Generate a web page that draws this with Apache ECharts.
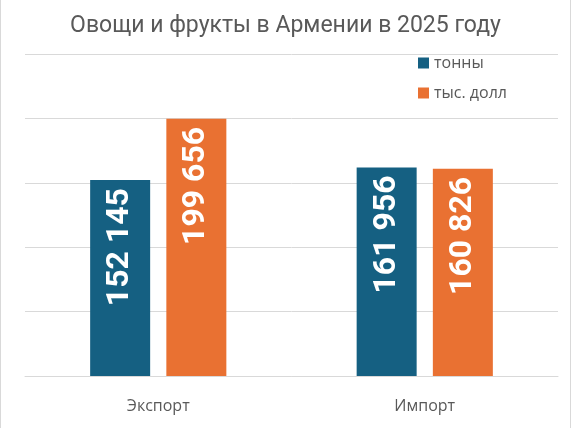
<!DOCTYPE html>
<html>
<head>
<meta charset="utf-8">
<script src="https://cdn.jsdelivr.net/npm/echarts@6/dist/echarts.min.js"></script>
<style>
  html, body { margin: 0; padding: 0; background: #fff; }
  #chart { width: 569px; height: 428px; border-left: 1px solid #d9d9d9; border-right: 1px solid #d9d9d9; }
</style>
</head>
<body>
<div id="chart"></div>
<script>
const categories = ["Экспорт", "Импорт"];
const tonnes = [152145, 161956];
const thousandUsd = [199656, 160826];
const seriesNames = ["тонны", "тыс. долл"];

const chart = echarts.init(document.getElementById("chart"), null, { renderer: "canvas" });

// "152 145" style with a space as thousands separator
const fmt = (v) => String(v).replace(/\B(?=(\d{3})+(?!\d))/g, " ");

const barLabel = {
  show: true,
  position: "insideTop",
  distance: 8,
  rotate: 90,
  align: "right",
  verticalAlign: "middle",
  color: "#fff",
  fontFamily: "Roboto",
  fontWeight: "bold",
  fontSize: 32,
  formatter: (p) => fmt(p.value),
};

chart.setOption({
  animation: false,
  title: {
    text: "Овощи и фрукты в Армении в 2025 году",
    left: "center",
    top: 10,
    textStyle: { fontFamily: "Roboto", fontWeight: "normal", fontSize: 23, color: "#595959" },
  },
  legend: {
    orient: "vertical",
    left: 412,
    top: 50,
    itemWidth: 11,
    itemHeight: 11,
    itemGap: 14,
    icon: "rect",
    textStyle: { fontFamily: "Open Sans", fontSize: 16, color: "#595959" },
    data: seriesNames,
  },
  grid: { left: 24, right: 12, top: 54, bottom: 52 },
  xAxis: {
    type: "category",
    data: categories,
    axisLine: { lineStyle: { color: "#d9d9d9" } },
    axisTick: { show: false },
    axisLabel: { fontFamily: "Open Sans", fontSize: 16, color: "#595959", margin: 22 },
  },
  yAxis: {
    type: "value",
    min: 0,
    max: 250000,
    interval: 50000,
    axisLabel: { show: false },
    axisLine: { show: false },
    axisTick: { show: false },
    splitLine: { lineStyle: { color: "#d9d9d9" } },
  },
  series: [
    {
      name: seriesNames[0],
      type: "bar",
      data: tonnes,
      barWidth: 60,
      barGap: "27%",
      itemStyle: { color: "#156082" },
      label: barLabel,
    },
    {
      name: seriesNames[1],
      type: "bar",
      data: thousandUsd,
      barWidth: 60,
      itemStyle: { color: "#e97132" },
      label: barLabel,
    },
  ],
});
</script>
</body>
</html>
